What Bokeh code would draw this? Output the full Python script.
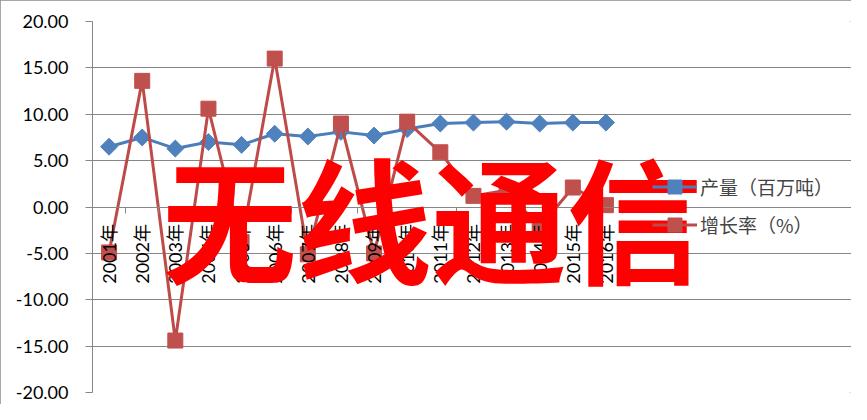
import numpy as np
from bokeh.plotting import figure
from bokeh.models import (FixedTicker, NumeralTickFormatter, Legend, LegendItem,
                          Label, Range1d, ColumnDataSource)
from bokeh.embed import file_html
from bokeh.resources import INLINE

# ---- data ----
years = ["2001年", "2002年", "2003年", "2004年", "2005年", "2006年", "2007年", "2008年",
         "2009年", "2010年", "2011年", "2012年", "2013年", "2014年", "2015年", "2016年"]
output = [6.5, 7.5, 6.3, 7.0, 6.7, 7.9, 7.6, 8.1, 7.7, 8.4, 9.0, 9.1, 9.2, 9.0, 9.1, 9.1]
growth = [-4.9, 13.6, -14.4, 10.6, -3.8, 16.0, -5.1, 9.0, -5.0, 9.2, 5.9, 1.2, 1.8, -2.2, 2.1, 0.2]
y_ticks = [-20, -15, -10, -5, 0, 5, 10, 15, 20]
series_names = ["产量（百万吨）", "增长率（%）"]
watermark = "无线通信"

xs = list(range(1, len(years) + 1))
src = ColumnDataSource(dict(x=xs, output=output, growth=growth))

GRAY = "#868686"
W, H = 851, 404
LEFT = 92
TOP = 21
BOTTOM = 12
PLOT_W = 530          # width of the category area in pixels
FRAME_W = W - LEFT    # frame spans to the right edge so legend/label are not clipped
x_lo = 0.5
x_hi_cat = len(years) + 0.5
x_hi = x_lo + (x_hi_cat - x_lo) * FRAME_W / PLOT_W

p = figure(width=W, height=H, output_backend="svg", toolbar_location=None,
           x_range=Range1d(x_lo, x_hi), y_range=Range1d(y_ticks[0], y_ticks[-1]),
           min_border_left=LEFT, min_border_right=0, min_border_top=TOP, min_border_bottom=BOTTOM)
p.outline_line_color = None
p.background_fill_color = "white"
p.border_fill_color = "white"
p.styles = {"outline": "2px solid #8a8a8a", "outline-offset": "-2px"}

# y axis
p.yaxis.ticker = FixedTicker(ticks=y_ticks)
p.yaxis.formatter = NumeralTickFormatter(format="0.00")
p.yaxis.axis_line_color = GRAY
p.yaxis.major_tick_line_color = GRAY
p.yaxis.major_tick_out = 7
p.yaxis.major_tick_in = 0
p.yaxis.minor_tick_line_color = None
p.yaxis.major_label_standoff = 17
p.yaxis.major_label_text_font = "Lato"
p.yaxis.major_label_text_font_size = "18px"
p.yaxis.major_label_text_color = "black"
p.ygrid.grid_line_color = GRAY
p.ygrid.bounds = (x_lo, x_hi_cat)
p.xgrid.visible = False

# x axis crossing at 0
p.xaxis.ticker = FixedTicker(ticks=xs, minor_ticks=[i + 0.5 for i in range(0, len(years) + 1)])
p.xaxis.major_label_overrides = {x: y for x, y in zip(xs, years)}
p.xaxis.fixed_location = 0
p.xaxis.bounds = (x_lo, x_hi_cat)
p.xaxis.major_label_orientation = np.pi / 2
p.xaxis.axis_line_color = GRAY
p.xaxis.major_tick_out = 0
p.xaxis.major_tick_in = 0
p.xaxis.major_tick_line_color = None
p.xaxis.minor_tick_out = 6
p.xaxis.minor_tick_in = 0
p.xaxis.minor_tick_line_color = GRAY
p.xaxis.major_label_standoff = 11
p.xaxis.major_label_text_font = "Lato, 'Noto Sans CJK SC'"
p.xaxis.major_label_text_font_size = "18px"
p.xaxis.major_label_text_color = "black"

# series
l1 = p.line("x", "output", source=src, line_color="#4A7EBB", line_width=3)
m1 = p.scatter("x", "output", source=src, marker="square", angle=np.pi / 4, size=12,
               fill_color="#4F81BD", line_color="#4F81BD")
l2 = p.line("x", "growth", source=src, line_color="#BE4B48", line_width=3)
m2 = p.scatter("x", "growth", source=src, marker="square", size=15,
               fill_color="#C0504D", line_color="#C0504D")

legend = Legend(items=[LegendItem(label=series_names[0], renderers=[l1, m1]),
                       LegendItem(label=series_names[1], renderers=[l2, m2])],
                location=(560, 150), border_line_color=None, background_fill_alpha=0,
                label_text_font="Noto Sans CJK SC", label_text_font_size="19px",
                glyph_width=45, glyph_height=35, label_height=35, spacing=3,
                padding=0, margin=0, label_standoff=3)
p.add_layout(legend)

wm = Label(x=10.75, y=-0.9, text=watermark, text_color="#FF0000",
           text_font="Noto Sans CJK SC", text_font_style="bold", text_font_size="135px",
           text_align="center", text_baseline="middle")
p.add_layout(wm)

open("out.html", "w").write(file_html(p, INLINE))
